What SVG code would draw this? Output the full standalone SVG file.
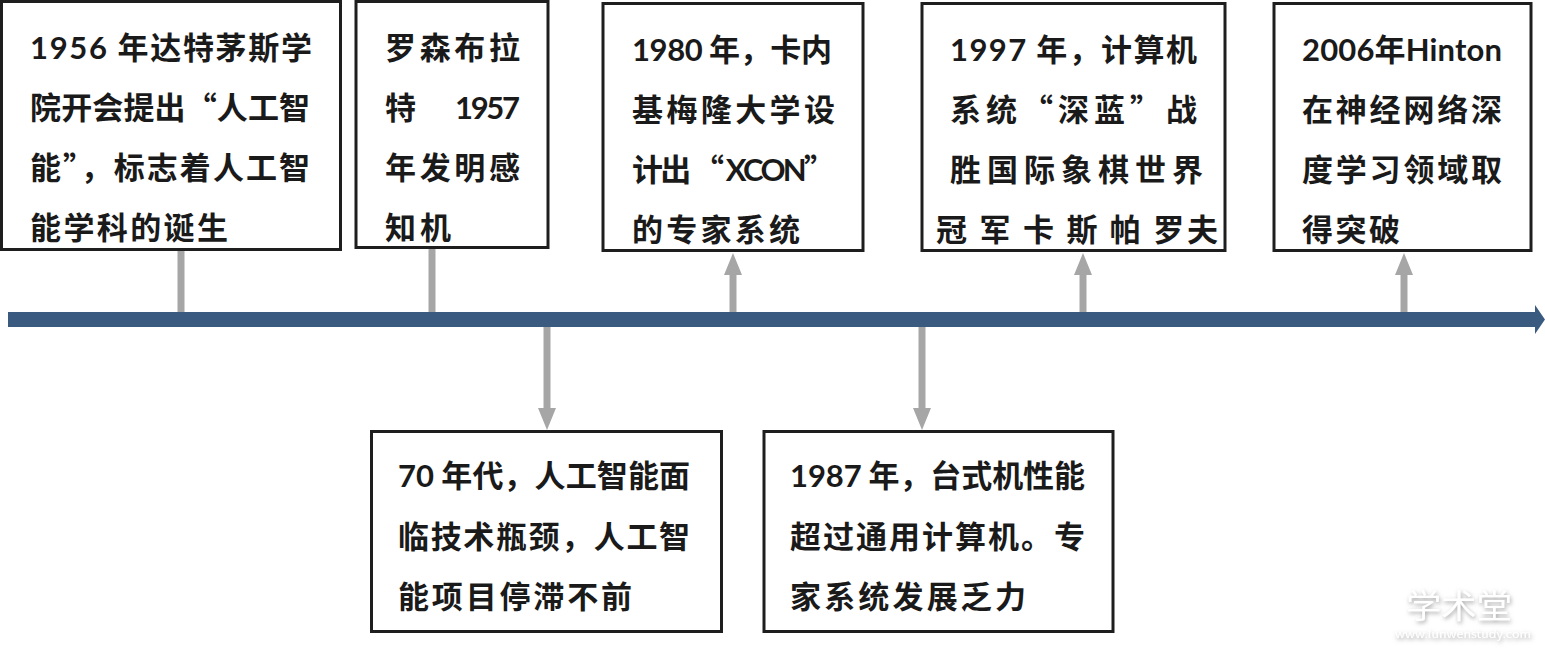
<svg xmlns="http://www.w3.org/2000/svg" width="1545" height="650" viewBox="0 0 1545 650">
<style>
.box{fill:#fff;stroke:#1e1e1e;stroke-width:3}
.t{font-family:"Noto Sans CJK SC","Liberation Sans",sans-serif;font-size:31px;fill:#1a1a1a;font-weight:bold}
.n{font-family:Lato,"Liberation Sans",sans-serif;font-weight:bold}
.stub{stroke:#a6a6a6;stroke-width:7;fill:none;stroke-linecap:round}
.arr{stroke:#a6a6a6;stroke-width:7;fill:none}
.wm{font-family:"Noto Sans CJK SC",sans-serif;fill:#fff}
</style>
<defs>
<marker id="ah" markerUnits="userSpaceOnUse" markerWidth="22" markerHeight="18" refX="0" refY="9" orient="auto" viewBox="0 0 22 18">
<path d="M0,0 L22,9 L0,18 z" fill="#a6a6a6"/>
</marker>
<filter id="sh" x="-20%" y="-50%" width="140%" height="200%">
<feDropShadow dx="1" dy="2" stdDeviation="2" flood-color="#888" flood-opacity="0.8"/>
</filter>
</defs>

<g id="connectors">
<line class="stub" x1="181" y1="250" x2="181" y2="320"/>
<line class="stub" x1="432" y1="248" x2="432" y2="320"/>
<path class="arr" d="M733,322 V275" marker-end="url(#ah)"/>
<path class="arr" d="M1083,322 V275" marker-end="url(#ah)"/>
<path class="arr" d="M1404,322 V275" marker-end="url(#ah)"/>
<path class="arr" d="M547,314 V408" marker-end="url(#ah)"/>
<path class="arr" d="M922,314 V408" marker-end="url(#ah)"/>
</g>

<g id="timeline">
<rect x="8" y="312" width="1528" height="15" fill="#3a5a80"/>
<polygon points="1535,305 1545,319.5 1535,334" fill="#3a5a80"/>
</g>

<g id="node-1956">
<rect class="box" x="1.5" y="1.5" width="339" height="248"/>
<text class="t" x="30" y="59" textLength="282" lengthAdjust="spacing"><tspan class="n">1956</tspan> 年达特茅斯学</text>
<text class="t" x="30" y="119" textLength="280" lengthAdjust="spacing">院开会提出“人工智</text>
<text class="t" x="30" y="179" textLength="280" lengthAdjust="spacing">能”，标志着人工智</text>
<text class="t" x="30" y="239" textLength="198" lengthAdjust="spacing">能学科的诞生</text>
</g>

<g id="node-1957">
<rect class="box" x="356" y="1.5" width="192" height="246"/>
<text class="t" x="385" y="59" textLength="135" lengthAdjust="spacing">罗森布拉</text>
<text class="t" x="385" y="119">特</text>
<text class="t" x="455" y="119" textLength="65" lengthAdjust="spacing"><tspan class="n">1957</tspan></text>
<text class="t" x="385" y="179" textLength="135" lengthAdjust="spacing">年发明感</text>
<text class="t" x="385" y="239" textLength="66" lengthAdjust="spacing">知机</text>
</g>

<g id="node-1980">
<rect class="box" x="603" y="3.5" width="260" height="247"/>
<text class="t" x="632" y="61" textLength="200" lengthAdjust="spacing"><tspan class="n">1980</tspan> 年，卡内</text>
<text class="t" x="632" y="121" textLength="203" lengthAdjust="spacing">基梅隆大学设</text>
<text class="t" x="632" y="181" textLength="203" lengthAdjust="spacing">计出 “ <tspan class="n">XCON</tspan>”</text>
<text class="t" x="632" y="241" textLength="168" lengthAdjust="spacing">的专家系统</text>
</g>

<g id="node-1997">
<rect class="box" x="922" y="3.5" width="303" height="247"/>
<text class="t" x="950" y="61" textLength="247" lengthAdjust="spacing"><tspan class="n">1997</tspan> 年，计算机</text>
<text class="t" x="950" y="121" textLength="247" lengthAdjust="spacing">系统“深蓝”战</text>
<text class="t" x="950" y="181" textLength="253" lengthAdjust="spacing">胜国际象棋世界</text>
<text class="t" x="936" y="241" textLength="282" lengthAdjust="spacing">冠 军 卡 斯 帕 罗夫</text>
</g>

<g id="node-2006">
<rect class="box" x="1274" y="3.5" width="257" height="247"/>
<text class="t" x="1302" y="61" textLength="200" lengthAdjust="spacing"><tspan class="n">2006</tspan>年<tspan class="n">Hinton</tspan></text>
<text class="t" x="1302" y="121" textLength="200" lengthAdjust="spacing">在神经网络深</text>
<text class="t" x="1302" y="181" textLength="200" lengthAdjust="spacing">度学习领域取</text>
<text class="t" x="1302" y="241" textLength="98" lengthAdjust="spacing">得突破</text>
</g>

<g id="node-70s">
<rect class="box" x="371.5" y="431.5" width="350" height="200"/>
<text class="t" x="398" y="487" textLength="292" lengthAdjust="spacing"><tspan class="n">70</tspan> 年代，人工智能面</text>
<text class="t" x="398" y="548" textLength="292" lengthAdjust="spacing">临技术瓶颈，人工智</text>
<text class="t" x="398" y="608" textLength="234" lengthAdjust="spacing">能项目停滞不前</text>
</g>

<g id="node-1987">
<rect class="box" x="764" y="431.5" width="349" height="200"/>
<text class="t" x="790" y="487" textLength="295" lengthAdjust="spacing"><tspan class="n">1987</tspan> 年，台式机性能</text>
<text class="t" x="790" y="548" textLength="295" lengthAdjust="spacing">超过通用计算机。专</text>
<text class="t" x="790" y="608" textLength="236" lengthAdjust="spacing">家系统发展乏力</text>
</g>

<g id="watermark" filter="url(#sh)">
<text class="wm" x="1406" y="618" font-size="33" textLength="106" lengthAdjust="spacingAndGlyphs">学术堂</text>
<text class="wm" x="1395" y="638" font-size="10" textLength="136" lengthAdjust="spacingAndGlyphs">www.lunwenstudy.com</text>
</g>
</svg>
